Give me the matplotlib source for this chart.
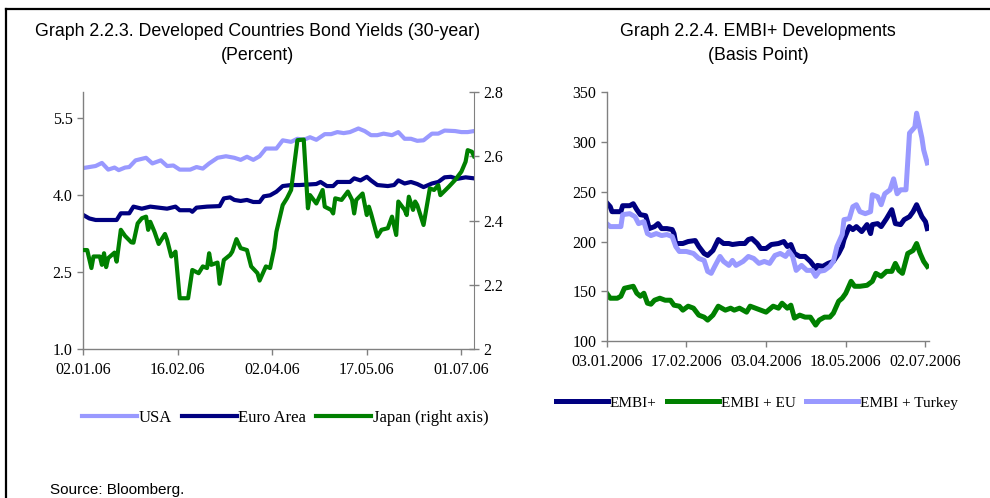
import matplotlib
matplotlib.use("Agg")
import matplotlib.pyplot as plt
import matplotlib.dates as mdates
from matplotlib.lines import Line2D
import pandas as pd

# ---------------- Left chart data (days after 02.01.2006) ----------------
left_start = "2006-01-02"
usa_days = [0, 3, 6, 9, 12, 15, 17, 20, 22, 25, 30, 33, 37, 40, 43, 46, 51, 54, 57, 60,
            64, 68, 72, 75, 78, 81, 84, 87, 92, 95, 99, 102, 105, 108, 111, 115, 118, 121, 124, 127,
            131, 134, 137, 140, 143, 147, 150, 153, 156, 159, 162, 166, 169, 172, 177, 180, 183, 186]
usa_vals = [4.52, 4.54, 4.56, 4.62, 4.49, 4.53, 4.48, 4.53, 4.54, 4.67, 4.72, 4.61, 4.67, 4.56, 4.57, 4.49, 4.49, 4.54, 4.51, 4.61,
            4.72, 4.75, 4.72, 4.68, 4.74, 4.68, 4.75, 4.90, 4.90, 5.06, 5.03, 5.09, 5.07, 5.12, 5.07, 5.18, 5.18, 5.22, 5.20, 5.22,
            5.29, 5.24, 5.16, 5.16, 5.19, 5.16, 5.22, 5.09, 5.09, 5.05, 5.06, 5.19, 5.19, 5.25, 5.24, 5.22, 5.22, 5.24]

euro_days = [0, 3, 6, 16, 18, 22, 24, 28, 32, 36, 40, 44, 46, 51, 52, 54, 59, 65, 67, 70,
             72, 75, 78, 81, 84, 86, 89, 92, 95, 99, 103, 111, 113, 116, 119, 121, 127, 129, 132, 135,
             137, 140, 145, 148, 150, 153, 156, 159, 162, 166, 169, 172, 175, 178, 182, 186]
euro_vals = [3.61, 3.54, 3.51, 3.51, 3.64, 3.64, 3.77, 3.73, 3.77, 3.75, 3.73, 3.77, 3.70, 3.70, 3.67, 3.75, 3.77, 3.78, 3.93, 3.95,
             3.90, 3.88, 3.90, 3.86, 3.86, 3.97, 3.99, 4.06, 4.17, 4.19, 4.19, 4.21, 4.25, 4.17, 4.17, 4.25, 4.25, 4.32, 4.28, 4.35,
             4.28, 4.19, 4.17, 4.19, 4.28, 4.22, 4.25, 4.21, 4.15, 4.22, 4.25, 4.34, 4.35, 4.31, 4.34, 4.32]

japan_days = [0, 2, 4, 5, 8, 9, 10, 11, 12, 15, 16, 18, 20, 23, 24, 26, 28, 30, 31, 32,
              34, 36, 39, 40, 42, 44, 46, 50, 52, 55, 57, 59, 60, 61, 64, 65, 67, 70, 71, 73,
              75, 78, 80, 83, 84, 87, 89, 91, 92, 95, 97, 99, 100, 102, 105, 107, 108, 111, 114, 115,
              118, 119, 120, 123, 126, 128, 129, 130, 133, 135, 136, 137, 140, 142, 145, 147, 149, 150, 153, 154,
              155, 157, 158, 159, 162, 165, 167, 169, 170, 174, 177, 180, 182, 183, 185, 186]
japan_vals = [2.308, 2.308, 2.252, 2.288, 2.288, 2.262, 2.298, 2.255, 2.283, 2.300, 2.272, 2.371, 2.352, 2.332, 2.331, 2.391, 2.407, 2.412, 2.371, 2.396,
              2.365, 2.327, 2.358, 2.340, 2.288, 2.303, 2.158, 2.158, 2.246, 2.236, 2.257, 2.252, 2.298, 2.262, 2.269, 2.203, 2.277, 2.293, 2.303, 2.342,
              2.314, 2.308, 2.257, 2.236, 2.213, 2.257, 2.252, 2.314, 2.365, 2.448, 2.469, 2.495, 2.547, 2.650, 2.652, 2.438, 2.479, 2.453, 2.495, 2.443,
              2.433, 2.422, 2.469, 2.464, 2.490, 2.464, 2.422, 2.464, 2.484, 2.417, 2.443, 2.422, 2.350, 2.371, 2.376, 2.412, 2.355, 2.459, 2.433, 2.417,
              2.474, 2.433, 2.459, 2.448, 2.386, 2.500, 2.495, 2.510, 2.479, 2.505, 2.526, 2.552, 2.583, 2.619, 2.614, 2.600]

left_xlim = ["2006-01-02", "2006-07-07"]
left_xticks = ["2006-01-02", "2006-02-16", "2006-04-02", "2006-05-17", "2006-07-01"]
left_yticks = [1.0, 2.5, 4.0, 5.5]
left_ylim = [1.0, 6.0]
right_axis_ticks = [2.0, 2.2, 2.4, 2.6, 2.8]
right_axis_labels = ["2", "2.2", "2.4", "2.6", "2.8"]

# ---------------- Right chart data (days after 03.01.2006) ----------------
right_start = "2006-01-03"
embi_days = [0, 2, 3, 8, 9, 13, 15, 17, 19, 22, 23, 24, 27, 29, 31, 34, 37, 38, 39, 43,
             46, 50, 52, 55, 57, 60, 63, 66, 69, 71, 75, 78, 80, 82, 85, 87, 90, 93, 97, 100,
             102, 104, 106, 109, 112, 115, 118, 119, 122, 125, 128, 131, 133, 134, 137, 139, 141, 144, 147, 149,
             150, 153, 155, 158, 161, 163, 166, 168, 171, 173, 175, 178, 180, 181]
embi_vals = [239, 235, 230, 230, 236, 236, 238, 232, 227, 226, 220, 213, 215, 218, 213, 213, 212, 208, 198, 198,
             200, 201, 195, 188, 186, 191, 202, 198, 198, 197, 198, 198, 202, 203, 198, 193, 193, 197, 198, 200,
             195, 197, 188, 185, 185, 180, 173, 176, 175, 178, 180, 188, 195, 202, 215, 212, 215, 210, 217, 208,
             217, 218, 215, 223, 232, 218, 217, 222, 225, 230, 237, 225, 220, 213]

eu_days = [0, 2, 6, 8, 10, 15, 17, 19, 21, 23, 25, 27, 30, 33, 36, 38, 41, 43, 46, 49,
           52, 55, 57, 60, 63, 67, 70, 72, 75, 79, 81, 84, 87, 90, 94, 97, 99, 102, 104, 106,
           109, 112, 115, 118, 120, 123, 126, 128, 131, 133, 135, 138, 140, 143, 147, 150, 152, 155, 158, 161,
           163, 165, 167, 170, 173, 175, 177, 179, 181]
eu_vals = [148, 143, 143, 145, 153, 155, 148, 145, 148, 138, 137, 141, 143, 141, 141, 136, 135, 131, 135, 133,
           126, 124, 121, 126, 135, 131, 133, 131, 133, 129, 135, 133, 131, 129, 135, 133, 138, 133, 136, 123,
           126, 124, 124, 116, 121, 124, 124, 128, 140, 143, 148, 160, 155, 155, 156, 160, 168, 165, 170, 170,
           178, 171, 168, 188, 191, 198, 188, 180, 175]

turkey_days = [0, 2, 6, 8, 9, 13, 16, 18, 21, 23, 25, 28, 31, 34, 37, 39, 41, 45, 49, 52,
               55, 57, 59, 61, 64, 66, 69, 71, 73, 77, 80, 83, 86, 89, 92, 95, 98, 101, 103, 105,
               107, 110, 113, 116, 118, 120, 123, 126, 128, 130, 133, 134, 137, 139, 141, 143, 146, 149, 150, 153,
               155, 157, 160, 162, 164, 166, 169, 171, 174, 175, 178, 179, 181]
turkey_vals = [218, 215, 215, 215, 227, 228, 225, 218, 220, 208, 206, 208, 206, 207, 205, 195, 190, 190, 188, 183,
               181, 170, 168, 175, 185, 180, 176, 181, 176, 180, 185, 183, 178, 180, 178, 186, 188, 185, 190, 185,
               171, 176, 171, 171, 165, 170, 171, 175, 180, 195, 207, 222, 223, 235, 237, 230, 228, 230, 247, 245,
               237, 248, 252, 263, 248, 252, 252, 309, 315, 329, 304, 292, 279]

right_xlim = ["2006-01-03", "2006-07-04"]
right_xticks = ["2006-01-03", "2006-02-17", "2006-04-03", "2006-05-18", "2006-07-02"]
right_yticks = [100, 150, 200, 250, 300, 350]
right_ylim = [100, 350]

# ---------------- Styling ----------------
LIGHT = "#9999FF"
NAVY = "#000080"
GREEN = "#008000"
SPINE = "#808080"
SERIF = ["Liberation Serif", "DejaVu Serif"]
NARROW = ["Liberation Sans Narrow", "Liberation Sans", "DejaVu Sans"]


def to_dates(start, days):
    return pd.Timestamp(start) + pd.to_timedelta(days, unit="D")


fig = plt.figure(figsize=(9.9, 4.98), dpi=100)

# Frame lines (top and left)
fig.add_artist(Line2D([6 / 990, 1.0], [1 - 9 / 498, 1 - 9 / 498], color="black", lw=1.6,
                      transform=fig.transFigure))
fig.add_artist(Line2D([6 / 990, 6 / 990], [1 - 9 / 498, 0], color="black", lw=1.6,
                      transform=fig.transFigure))


def style_axes(ax, right=False):
    ax.spines["top"].set_visible(False)
    ax.spines["right"].set_visible(right)
    for s in ["left", "bottom", "right"]:
        ax.spines[s].set_color(SPINE)
        ax.spines[s].set_linewidth(1.0)
    ax.tick_params(axis="both", colors=SPINE, labelcolor="black", labelsize=11.5, length=4, width=1)
    for lab in ax.get_xticklabels() + ax.get_yticklabels():
        lab.set_family(SERIF)


# ---------------- Left chart ----------------
axL = fig.add_axes([83 / 990, 1 - 349 / 498, (474 - 83) / 990, (349 - 92) / 498])
lu, = axL.plot(to_dates(left_start, usa_days), usa_vals, color=LIGHT, lw=3.0, label="USA")
le, = axL.plot(to_dates(left_start, euro_days), euro_vals, color=NAVY, lw=3.0, label="Euro Area")
axL.set_xlim(pd.Timestamp(left_xlim[0]), pd.Timestamp(left_xlim[1]))
axL.set_ylim(*left_ylim)
axL.set_yticks(left_yticks)
axL.set_yticklabels([f"{v:.1f}" for v in left_yticks], family=SERIF)
axL.set_xticks([pd.Timestamp(d) for d in left_xticks])
axL.xaxis.set_major_formatter(mdates.DateFormatter("%d.%m.%y"))
axL.tick_params(axis="x", direction="out", pad=5)
style_axes(axL)

axR = axL.twinx()
lj, = axR.plot(to_dates(left_start, japan_days), japan_vals, color=GREEN, lw=3.0, label="Japan (right axis)")
axR.set_ylim(2.0, 2.8)
axR.set_yticks(right_axis_ticks)
axR.set_yticklabels(right_axis_labels, family=SERIF)
for s in ["top", "left", "bottom"]:
    axR.spines[s].set_visible(False)
axR.spines["right"].set_color(SPINE)
axR.tick_params(axis="y", direction="inout", colors=SPINE, labelcolor="black", labelsize=11.5, length=7, width=1)
for lab in axL.get_xticklabels():
    lab.set_family(SERIF)

fig.legend(handles=[lu, le, lj], loc="center", bbox_to_anchor=(285 / 990, 1 - 418 / 498),
           ncol=3, frameon=False, prop={"family": SERIF, "size": 12}, handlelength=3.3,
           handletextpad=0.1, columnspacing=0.6, borderpad=0)

fig.text(258 / 990, 1 - 32 / 498, "Graph 2.2.3. Developed Countries Bond Yields (30-year)",
         ha="center", va="center", fontsize=12.8, family=NARROW)
fig.text(258 / 990, 1 - 56 / 498, "(Percent)", ha="center", va="center", fontsize=12.8, family=NARROW)

# ---------------- Right chart ----------------
ax2 = fig.add_axes([606.7 / 990, 1 - 341 / 498, (929 - 606.7) / 990, (341 - 92.3) / 498])
l1, = ax2.plot(to_dates(right_start, embi_days), embi_vals, color=NAVY, lw=3.6, label="EMBI+")
l2, = ax2.plot(to_dates(right_start, eu_days), eu_vals, color=GREEN, lw=3.6, label="EMBI + EU")
l3, = ax2.plot(to_dates(right_start, turkey_days), turkey_vals, color=LIGHT, lw=3.6, label="EMBI + Turkey")
ax2.set_xlim(pd.Timestamp(right_xlim[0]), pd.Timestamp(right_xlim[1]))
ax2.set_ylim(*right_ylim)
ax2.set_yticks(right_yticks)
ax2.set_xticks([pd.Timestamp(d) for d in right_xticks])
ax2.xaxis.set_major_formatter(mdates.DateFormatter("%d.%m.%Y"))
ax2.tick_params(axis="x", direction="out", pad=5)
style_axes(ax2)

fig.legend(handles=[l1, l2, l3], loc="center", bbox_to_anchor=(757 / 990, 1 - 403 / 498),
           ncol=3, frameon=False, prop={"family": SERIF, "size": 11}, handlelength=3.4,
           handletextpad=0.1, columnspacing=0.7, borderpad=0)

fig.text(758 / 990, 1 - 32 / 498, "Graph 2.2.4. EMBI+ Developments",
         ha="center", va="center", fontsize=12.8, family=NARROW)
fig.text(758 / 990, 1 - 56 / 498, "(Basis Point)", ha="center", va="center", fontsize=12.8, family=NARROW)

fig.text(50 / 990, 1 - 490 / 498, "Source: Bloomberg.", ha="left", va="center", fontsize=11, family=NARROW)

fig.savefig("out.png", dpi=100)
